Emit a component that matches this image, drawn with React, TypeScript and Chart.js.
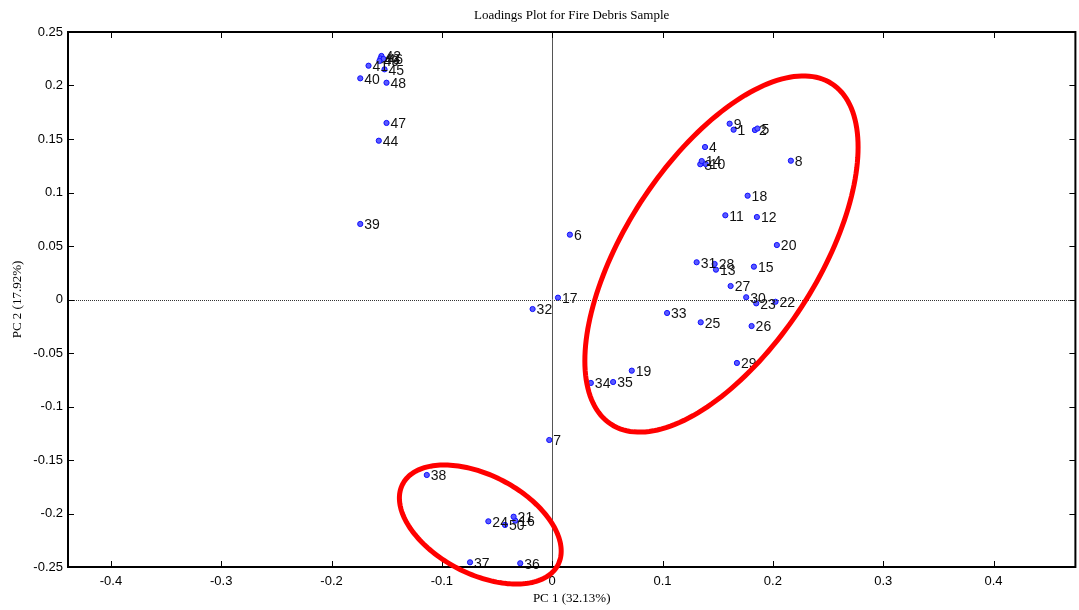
import React, { useEffect, useRef } from "react";
import { Chart, registerables } from "chart.js";

Chart.register(...registerables);

const chartTitle = "Loadings Plot for Fire Debris Sample";
const xTitle = "PC 1 (32.13%)";
const yTitle = "PC 2 (17.92%)";

const pointLabels = [
  "1", "2", "3", "4", "5", "6", "7", "8", "9", "10",
  "11", "12", "13", "14", "15", "16", "17", "18", "19", "20",
  "21", "22", "23", "24", "25", "26", "27", "28", "29", "30",
  "31", "32", "33", "34", "35", "36", "37", "38", "39", "40",
  "41", "42", "43", "44", "45", "46", "47", "48", "49", "50",
];

const pc1 = [
  0.1644, 0.1837, 0.1342, 0.1385, 0.186, 0.016, -0.0027, 0.2163, 0.1608, 0.1391,
  0.1569, 0.1855, 0.1484, 0.1355, 0.1828, -0.0335, 0.0052, 0.1771, 0.0721, 0.2036,
  -0.035, 0.2024, 0.1849, -0.0579, 0.1346, 0.1807, 0.1617, 0.1472, 0.1674, 0.1758,
  0.1309, -0.0178, 0.1041, 0.035, 0.0552, -0.029, -0.0745, -0.1137, -0.174, -0.174,
  -0.1665, -0.1548, -0.1557, -0.1572, -0.152, -0.1529, -0.1502, -0.1502, -0.1566, -0.0428,
];

const pc2 = [
  0.1587, 0.1584, 0.1264, 0.1425, 0.1598, 0.0606, -0.1313, 0.1297, 0.1643, 0.1266,
  0.0787, 0.0771, 0.0279, 0.1294, 0.0307, -0.2067, 0.0017, 0.097, -0.0665, 0.0509,
  -0.203, -0.0021, -0.0036, -0.2073, -0.0213, -0.0248, 0.0126, 0.0332, -0.0593, 0.0021,
  0.0348, -0.0089, -0.0126, -0.078, -0.0771, -0.2465, -0.2456, -0.164, 0.0706, 0.2067,
  0.2185, 0.2276, 0.2252, 0.1484, 0.2151, 0.2248, 0.165, 0.2026, 0.2229, -0.2107,
];

const xTicks = [-0.4, -0.3, -0.2, -0.1, 0, 0.1, 0.2, 0.3, 0.4];
const yTicks = [-0.25, -0.2, -0.15, -0.1, -0.05, 0, 0.05, 0.1, 0.15, 0.2, 0.25];
const xRange = [-0.4389, 0.4742];
const yRange = [-0.25, 0.25];

// annotation ellipses in data units: center, major-axis vector, minor-axis vector
const ellipseCenters = [
  [0.1534, 0.0425],
  [-0.0652, -0.2103],
];
const ellipseMajor = [
  [0.1001, 0.1591],
  [0.0704, -0.0377],
];
const ellipseMinor = [
  [-0.0729, 0.0489],
  [0.0205, 0.0409],
];

const fmt = (v: number) => String(Number(Number(v).toFixed(2)));

const decorPlugin = {
  id: "decor",
  afterDatasetsDraw(chart: any) {
    const { ctx, chartArea: a, scales } = chart;
    const xs = scales.x;
    const ys = scales.y;
    ctx.save();
    // zero lines
    ctx.strokeStyle = "#333";
    ctx.lineWidth = 1;
    ctx.setLineDash([1, 1]);
    const y0 = Math.round(ys.getPixelForValue(0)) + 0.5;
    const x0 = Math.round(xs.getPixelForValue(0)) + 0.5;
    ctx.beginPath();
    ctx.moveTo(a.left, y0);
    ctx.lineTo(a.right, y0);
    ctx.stroke();
    ctx.setLineDash([]);
    ctx.strokeStyle = "#555";
    ctx.beginPath();
    ctx.moveTo(x0, a.top);
    ctx.lineTo(x0, a.bottom);
    ctx.stroke();

    // point labels
    const meta = chart.getDatasetMeta(0);
    ctx.fillStyle = "#111";
    ctx.font = "14px 'Liberation Sans', Arial, sans-serif";
    ctx.textAlign = "left";
    ctx.textBaseline = "middle";
    meta.data.forEach((el: any, i: number) => {
      ctx.fillText(pointLabels[i], el.x + 4, el.y + 1.5);
    });

    // box
    ctx.strokeStyle = "#000";
    ctx.lineWidth = 2;
    ctx.strokeRect(a.left, a.top, a.right - a.left, a.bottom - a.top);

    // inward ticks
    ctx.lineWidth = 1;
    const tl = 6;
    ctx.beginPath();
    xTicks.forEach((v) => {
      const px = Math.round(xs.getPixelForValue(v)) + 0.5;
      ctx.moveTo(px, a.bottom);
      ctx.lineTo(px, a.bottom - tl);
      ctx.moveTo(px, a.top);
      ctx.lineTo(px, a.top + tl);
    });
    yTicks.forEach((v) => {
      const py = Math.round(ys.getPixelForValue(v)) + 0.5;
      ctx.moveTo(a.left, py);
      ctx.lineTo(a.left + tl, py);
      ctx.moveTo(a.right, py);
      ctx.lineTo(a.right - tl, py);
    });
    ctx.stroke();

    // titles
    ctx.fillStyle = "#000";
    ctx.font = "13px 'Liberation Serif', 'Times New Roman', serif";
    ctx.textAlign = "center";
    ctx.textBaseline = "middle";
    ctx.fillText(chartTitle, (a.left + a.right) / 2, 16);
    ctx.fillText(xTitle, (a.left + a.right) / 2, 599);
    ctx.save();
    ctx.translate(18, (a.top + a.bottom) / 2);
    ctx.rotate(-Math.PI / 2);
    ctx.fillText(yTitle, 0, 0);
    ctx.restore();

    // ellipses
    ctx.strokeStyle = "#ff0000";
    ctx.lineWidth = 5;
    ellipseCenters.forEach((c, k) => {
      const U = ellipseMajor[k];
      const V = ellipseMinor[k];
      ctx.beginPath();
      const n = 180;
      for (let i = 0; i <= n; i++) {
        const t = (i / n) * Math.PI * 2;
        const dx = c[0] + Math.cos(t) * U[0] + Math.sin(t) * V[0];
        const dy = c[1] + Math.cos(t) * U[1] + Math.sin(t) * V[1];
        const px = xs.getPixelForValue(dx);
        const py = ys.getPixelForValue(dy);
        if (i === 0) ctx.moveTo(px, py);
        else ctx.lineTo(px, py);
      }
      ctx.closePath();
      ctx.stroke();
    });
    ctx.restore();
  },
};

export default function App() {
  const ref = useRef<HTMLCanvasElement | null>(null);
  useEffect(() => {
    if (!ref.current) return;
    const data = pc1.map((x, i) => ({ x, y: pc2[i] }));
    const tickFont = { family: "'Liberation Sans', Arial, sans-serif", size: 13 };
    const chart = new Chart(ref.current, {
      type: "scatter",
      data: {
        datasets: [
          {
            data,
            pointRadius: 2.6,
            pointBackgroundColor: "#5a5aff",
            pointBorderColor: "#1010ff",
            pointBorderWidth: 1,
            pointHoverRadius: 2.6,
          },
        ],
      },
      options: {
        animation: false,
        responsive: true,
        maintainAspectRatio: false,
        events: [],
        layout: { padding: { top: 32, right: 2, left: 0, bottom: 0 } },
        plugins: { legend: { display: false }, tooltip: { enabled: false }, title: { display: false } },
        scales: {
          x: {
            type: "linear",
            min: xRange[0],
            max: xRange[1],
            grid: { display: false, drawTicks: false },
            border: { display: false },
            afterBuildTicks: (s: any) => {
              s.ticks = xTicks.map((v) => ({ value: v }));
            },
            afterFit: (s: any) => {
              s.height = 43;
            },
            ticks: {
              font: tickFont,
              color: "#000",
              padding: 7,
              autoSkip: false,
              maxRotation: 0,
              callback: (v: any) => fmt(v),
            },
          },
          y: {
            type: "linear",
            min: yRange[0],
            max: yRange[1],
            grid: { display: false, drawTicks: false },
            border: { display: false },
            afterBuildTicks: (s: any) => {
              s.ticks = yTicks.map((v) => ({ value: v }));
            },
            afterFit: (s: any) => {
              s.width = 68;
            },
            ticks: {
              font: tickFont,
              color: "#000",
              padding: 5,
              autoSkip: false,
              callback: (v: any) => fmt(v),
            },
          },
        },
      } as any,
      plugins: [decorPlugin],
    });
    return () => chart.destroy();
  }, []);
  return (
    <div style={{ position: "fixed", left: 0, top: 0, width: 1079, height: 610, background: "#fff" }}>
      <canvas ref={ref} />
    </div>
  );
}
